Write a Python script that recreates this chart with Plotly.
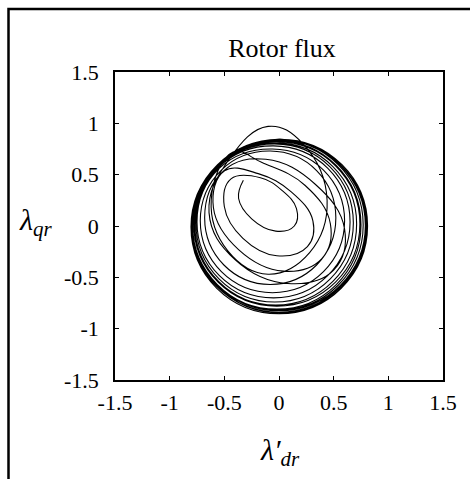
import plotly.graph_objects as go

# Trajectory points (lambda'_dr, lambda_qr), read loop by loop from the picture
loop_x = [
    # loop 1
    -0.326, -0.37, -0.25, -0.03, 0.14, 0.16, 0.027, -0.17,
    # loop 2
    -0.439, -0.5, -0.33, -0.02, 0.26, 0.31, 0.112, -0.19,
    # loop 3
    -0.498, -0.6, -0.37, 0.04, 0.39, 0.47, 0.237, -0.16,
    # loop 4 (top bump)
    -0.42, -0.62, -0.47, -0.1, 0.28, 0.44, 0.22, -0.1,
    # loop 5
    -0.45, -0.64, -0.4, 0.08, 0.5, 0.6, 0.334, -0.12,
    # outer loops
    -0.504, -0.68, -0.504, -0.08, 0.344, 0.52, 0.344, -0.08,
    -0.527, -0.72, -0.527, -0.06, 0.407, 0.6, 0.407, -0.06,
    -0.545, -0.75, -0.545, -0.05, 0.445, 0.65, 0.445, -0.05,
    -0.549, -0.76, -0.549, -0.04, 0.469, 0.68, 0.469, -0.04,
    -0.553, -0.77, -0.553, -0.03, 0.493, 0.71, 0.493, -0.03,
    -0.557, -0.78, -0.557, -0.02, 0.517, 0.74, 0.517, -0.02,
    -0.564, -0.79, -0.564, -0.02, 0.524, 0.75, 0.524, -0.02,
    -0.561, -0.79, -0.561, -0.01, 0.541, 0.77, 0.541, -0.01,
    -0.559, -0.79, -0.559, 0.0, 0.559, 0.79, 0.559, 0.0,
    -0.559, -0.79, -0.559, 0.0, 0.559, 0.79, 0.559, 0.0,
    -0.566, -0.8, -0.566, 0.0, 0.566, 0.8, 0.566, 0.0,
    -0.556, -0.79, -0.556, 0.01, 0.576, 0.81, 0.576, 0.01,
    -0.569, -0.805, -0.569, 0.0, 0.569, 0.805, 0.569, 0.0,
    -0.566, -0.8, -0.566, 0.0, 0.566, 0.8, 0.566, 0.0,
    -0.566,
]
loop_y = [
    0.446, 0.27, 0.07, -0.05, 0.0, 0.17, 0.347, 0.47,
    0.459, 0.19, -0.12, -0.29, -0.2, 0.05, 0.332, 0.51,
    0.538, 0.18, -0.23, -0.44, -0.32, 0.02, 0.397, 0.62,
    0.72, 0.25, -0.24, -0.47, -0.26, 0.25, 0.8, 0.97,
    0.66, 0.13, -0.33, -0.56, -0.43, -0.03, 0.404, 0.65,
    0.54, 0.08, -0.38, -0.57, -0.38, 0.08, 0.54, 0.73,
    0.545, 0.05, -0.445, -0.65, -0.445, 0.05, 0.545, 0.75,
    0.563, 0.04, -0.483, -0.7, -0.483, 0.04, 0.563, 0.78,
    0.574, 0.03, -0.514, -0.74, -0.514, 0.03, 0.574, 0.8,
    0.579, 0.02, -0.539, -0.77, -0.539, 0.02, 0.579, 0.81,
    0.586, 0.02, -0.546, -0.78, -0.546, 0.02, 0.586, 0.82,
    0.59, 0.01, -0.57, -0.81, -0.57, 0.01, 0.59, 0.83,
    0.597, 0.01, -0.577, -0.82, -0.577, 0.01, 0.597, 0.84,
    0.6, 0.01, -0.58, -0.825, -0.58, 0.01, 0.6, 0.845,
    0.594, 0.0, -0.594, -0.84, -0.594, 0.0, 0.594, 0.84,
    0.594, 0.0, -0.594, -0.84, -0.594, 0.0, 0.594, 0.84,
    0.597, 0.0, -0.597, -0.845, -0.597, 0.0, 0.597, 0.845,
    0.587, -0.01, -0.607, -0.855, -0.607, -0.01, 0.587, 0.835,
    0.594, 0.0, -0.594, -0.84, -0.594, 0.0, 0.594, 0.84,
    0.594,
]

tick_vals = [-1.5, -1, -0.5, 0, 0.5, 1, 1.5]
tick_text = ["-1.5", "-1", "-0.5", "0", "0.5", "1", "1.5"]

FONT = "Liberation Serif, Times New Roman, serif"

fig = go.Figure()
fig.add_trace(go.Scatter(
    x=loop_x, y=loop_y, mode="lines",
    line=dict(color="black", width=1.1, shape="spline", smoothing=1.2),
    showlegend=False, hoverinfo="skip",
))

axis_common = dict(
    range=[-1.5, 1.5], tickvals=tick_vals, ticktext=tick_text,
    ticks="inside", ticklen=4, tickwidth=1, tickcolor="black",
    showline=True, linecolor="black", linewidth=1.5, mirror="ticks",
    showgrid=False, zeroline=False,
    tickfont=dict(family=FONT, size=22, color="black"),
)
fig.update_xaxes(**axis_common, ticklabelstandoff=2)
fig.update_yaxes(**axis_common, ticklabelstandoff=10)

fig.update_layout(
    width=470, height=479,
    margin=dict(l=115, r=27, t=72, b=99),
    paper_bgcolor="white", plot_bgcolor="white",
    font=dict(family=FONT, color="black"),
    title=dict(text="Rotor flux", x=282 / 470, xanchor="center",
               y=1 - 48 / 479, yanchor="middle",
               font=dict(family=FONT, size=26, color="black")),
    shapes=[dict(type="rect", xref="paper", yref="paper",
                 x0=(8.5 - 115) / 328, x1=(490 - 115) / 328,
                 y0=(380 - 500) / 308, y1=(380 - 9) / 308,
                 line=dict(color="black", width=2.5), fillcolor="rgba(0,0,0,0)")],
    annotations=[
        dict(text="<i>λ′<sub>dr</sub></i>", xref="paper", yref="paper",
             x=(280 - 115) / 328, y=(380 - 452) / 308, xanchor="center", yanchor="middle",
             showarrow=False, font=dict(family=FONT, size=30, color="black")),
        dict(text="<i>λ<sub>qr</sub></i>", xref="paper", yref="paper",
             x=(36 - 115) / 328, y=(380 - 222) / 308, xanchor="center", yanchor="middle",
             showarrow=False, font=dict(family=FONT, size=30, color="black")),
    ],
)

fig.write_html("out.html")
